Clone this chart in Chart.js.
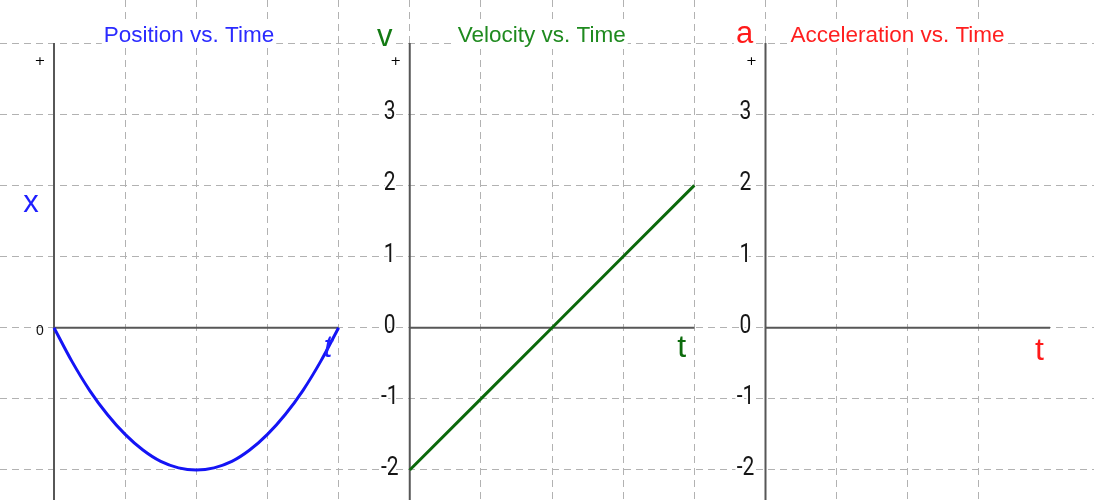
<!DOCTYPE html>
<html>
<head>
<meta charset="utf-8">
<title>Position, Velocity and Acceleration vs. Time</title>
<style>
  html, body { margin: 0; padding: 0; background: #ffffff; }
  #wrap { position: relative; width: 1094px; height: 500px; }
  canvas { display: block; }
</style>
<script src="https://cdn.jsdelivr.net/npm/chart.js@4.4.1/dist/chart.umd.min.js"></script>
</head>
<body>
<div id="wrap"><canvas id="motion" width="1094" height="500"></canvas></div>
<script>
// ---- data -------------------------------------------------------------
const positionTimes  = [0, 0.25, 0.5, 0.75, 1, 1.25, 1.5, 1.75, 2, 2.25, 2.5, 2.75, 3, 3.25, 3.5, 3.75, 4];
const positionValues = [0, -0.47, -0.88, -1.22, -1.5, -1.72, -1.88, -1.97, -2, -1.97, -1.88, -1.72, -1.5, -1.22, -0.88, -0.47, 0];

const velocityTimes  = [0, 1, 2, 3, 4];
const velocityValues = [-2, -1, 0, 1, 2];

const positionTickLabels     = ['0'];
const velocityTickLabels     = ['3', '2', '1', '0', '-1', '-2'];
const accelerationTickLabels = ['3', '2', '1', '0', '-1', '-2'];

const panelTitles = ['Position vs. Time', 'Velocity vs. Time', 'Acceleration vs. Time'];
const axisLetters = ['x', 'v', 'a'];
const timeLetter  = 't';

// ---- look of each panel (fonts, colours, label offsets from the origin) --
const panels = [
  { scaleId: 'x',  titleColor: '#2b2bff', letterColor: '#1f1fff', timeColor: '#1f1fff',
    titleDx: 135, letterDx: -23, letterBase: 212, timeDx: 274, timeBase: 357, timeItalic: true,
    ticks: positionTickLabels, tickStyle: 'small' },
  { scaleId: 'x2', titleColor: '#1f8a1f', letterColor: '#137a13', timeColor: '#0d6b0d',
    titleDx: 132, letterDx: -25, letterBase: 46, timeDx: 272, timeBase: 357, timeItalic: false,
    ticks: velocityTickLabels, tickStyle: 'large' },
  { scaleId: 'x3', titleColor: '#ff1f1f', letterColor: '#ff1a1a', timeColor: '#ff1a1a',
    titleDx: 132, letterDx: -21, letterBase: 43, timeDx: 274, timeBase: 360, timeItalic: false,
    ticks: accelerationTickLabels, tickStyle: 'large' }
];

const AXIS_COLOR = '#575757';
const GRID_COLOR = '#b2b2b2';

function textWithBox(ctx, text, x, y, font, color, align) {
  ctx.font = font;
  ctx.textAlign = align || 'center';
  ctx.textBaseline = 'alphabetic';
  const m = ctx.measureText(text);
  const w = m.width;
  const left = ctx.textAlign === 'center' ? x - w / 2 : x;
  ctx.fillStyle = '#ffffff';
  ctx.fillRect(left - 2, y - m.actualBoundingBoxAscent - 2, w + 4, m.actualBoundingBoxAscent + m.actualBoundingBoxDescent + 4);
  ctx.fillStyle = color;
  ctx.fillText(text, x, y);
}

const motionDecor = {
  id: 'motionDecor',
  beforeDatasetsDraw(chart) {
    const ctx = chart.ctx;
    const ys = chart.scales.y;
    ctx.save();
    ctx.strokeStyle = AXIS_COLOR;
    ctx.lineWidth = 2;
    panels.forEach(p => {
      const xs = chart.scales[p.scaleId];
      const ox = xs.getPixelForValue(0);
      const oy = ys.getPixelForValue(0);
      ctx.beginPath();
      ctx.moveTo(ox, ys.getPixelForValue(4));
      ctx.lineTo(ox, chart.height);
      ctx.moveTo(ox, oy);
      ctx.lineTo(xs.getPixelForValue(4), oy);
      ctx.stroke();
    });
    ctx.restore();
  },
  afterDatasetsDraw(chart) {
    const ctx = chart.ctx;
    const ys = chart.scales.y;
    ctx.save();
    panels.forEach((p, i) => {
      const xs = chart.scales[p.scaleId];
      const ox = xs.getPixelForValue(0);

      // title and axis letter
      textWithBox(ctx, panelTitles[i], ox + p.titleDx, 42, '22.5px "Liberation Sans", Arial, sans-serif', p.titleColor);
      textWithBox(ctx, axisLetters[i], ox + p.letterDx, p.letterBase, '31px "Liberation Sans", Arial, sans-serif', p.letterColor);

      // time letter below the end of the time axis
      ctx.font = (p.timeItalic ? 'italic ' : '') + '32px "Liberation Sans", Arial, sans-serif';
      ctx.textAlign = 'center';
      ctx.textBaseline = 'alphabetic';
      ctx.fillStyle = p.timeColor;
      ctx.fillText(timeLetter, ox + p.timeDx, p.timeBase);

      // small plus sign near the top of the vertical axis
      ctx.font = '13px "DejaVu Sans", sans-serif';
      ctx.fillStyle = '#000000';
      ctx.textBaseline = 'middle';
      ctx.fillText('+', ox - 14, 62);

      // tick labels
      p.ticks.forEach(lbl => {
        const py = ys.getPixelForValue(Number(lbl));
        if (p.tickStyle === 'small') {
          ctx.font = '14px "Liberation Sans", Arial, sans-serif';
          ctx.textAlign = 'center';
          ctx.textBaseline = 'alphabetic';
          ctx.fillStyle = '#111111';
          ctx.fillText(lbl, ox - 14, py + 7);
        } else {
          ctx.save();
          ctx.translate(ox - 20, py + 5);
          ctx.scale(0.84, 1);
          ctx.font = '25px Roboto, "DejaVu Sans", sans-serif';
          ctx.textAlign = 'center';
          ctx.textBaseline = 'alphabetic';
          ctx.lineWidth = 4;
          ctx.strokeStyle = '#ffffff';
          ctx.strokeText(lbl, 0, 0);
          ctx.fillStyle = '#161616';
          ctx.fillText(lbl, 0, 0);
          ctx.restore();
        }
      });
    });
    ctx.restore();
  }
};

function keepWholeUnits(scale) {
  scale.ticks = scale.ticks.filter(t => Math.abs(t.value - Math.round(t.value)) < 1e-6);
}

const gridScale = (min, max) => ({
  type: 'linear', min, max, display: true,
  ticks: { display: false, stepSize: 1 },
  grid: { color: GRID_COLOR, lineWidth: 1, drawTicks: false },
  border: { display: false, dash: [7, 5] },
  afterBuildTicks: keepWholeUnits
});

new Chart(document.getElementById('motion'), {
  type: 'line',
  data: {
    datasets: [
      {
        label: 'Position',
        data: positionTimes.map((t, i) => ({ x: t, y: positionValues[i] })),
        xAxisID: 'x', yAxisID: 'y',
        borderColor: '#1414f5', borderWidth: 3, pointRadius: 0,
        cubicInterpolationMode: 'monotone', fill: false, clip: false
      },
      {
        label: 'Velocity',
        data: velocityTimes.map((t, i) => ({ x: t, y: velocityValues[i] })),
        xAxisID: 'x2', yAxisID: 'y',
        borderColor: '#0b690b', borderWidth: 3, pointRadius: 0,
        tension: 0, fill: false, clip: false
      }
    ]
  },
  options: {
    responsive: false,
    animation: false,
    layout: { padding: 0 },
    plugins: { legend: { display: false }, tooltip: { enabled: false }, title: { display: false } },
    scales: {
      x:  gridScale(-0.759, 14.617),
      x2: { type: 'linear', display: false, min: -5.759, max: 9.617 },
      x3: { type: 'linear', display: false, min: -10.759, max: 4.617 },
      y:  gridScale(-2.422, 4.606)
    }
  },
  plugins: [motionDecor]
});
</script>
</body>
</html>
